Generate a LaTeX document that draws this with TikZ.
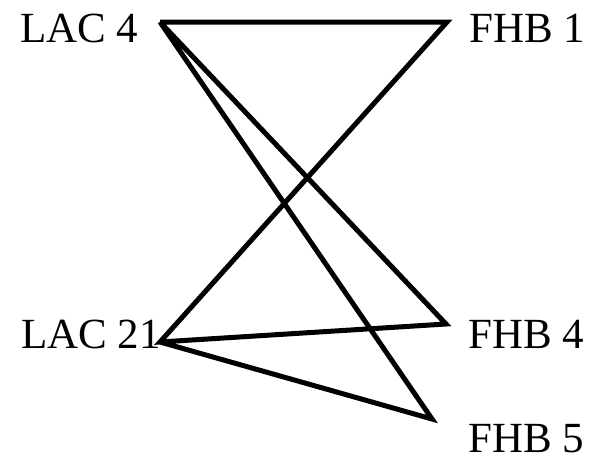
\documentclass[tikz,border=0pt]{standalone}
\usepackage{fontspec}
\setmainfont{Liberation Serif}
\tikzset{
  vlab/.style={anchor=base west,inner sep=0pt,font=\fontsize{43}{48}\selectfont},
  edg/.style={line width=5pt,line join=miter},
}
\begin{document}
\begin{tikzpicture}[x=1pt,y=-1pt]
  \useasboundingbox (0,0) rectangle (592,461);
  % labels
  \node[vlab] (lac4) at (20,42) {LAC 4};
  \node[vlab] (lac21) at (21,348) {LAC 21};
  \node[vlab] (fhb1) at (469,42) {FHB 1};
  \node[vlab] (fhb4) at (468,348) {FHB 4};
  \node[vlab] (fhb5) at (468,452) {FHB 5};
  % line ends
  \coordinate (l4) at (160,22);
  \coordinate (l21) at (160,342);
  \coordinate (f1) at (447,22);
  \coordinate (f4) at (446,324);
  \coordinate (f5) at (432,419);
  \draw[edg] (l4) -- (f1) -- (l21) -- (f4) -- (l4) -- (f5) -- (l21);
\end{tikzpicture}
\end{document}
